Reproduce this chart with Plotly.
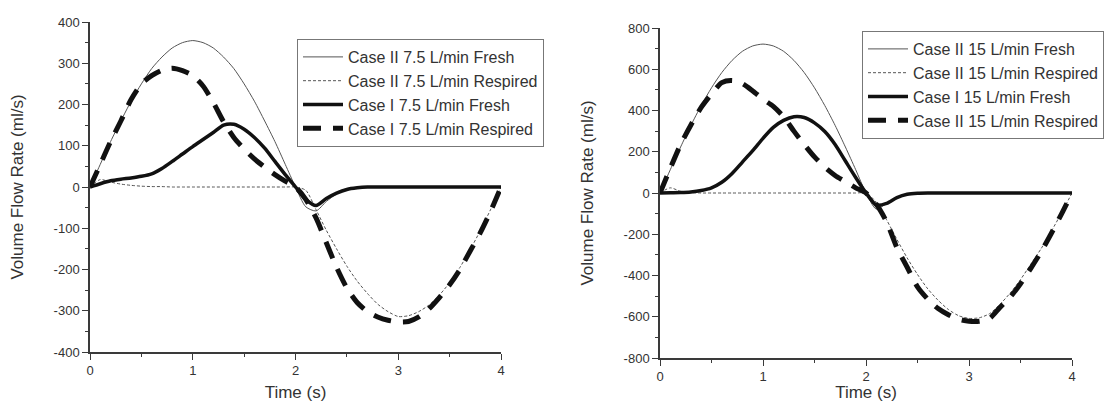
import plotly.graph_objects as go

# ---------------- data ----------------
time_s = [round(0.1 * i, 1) for i in range(41)]

# Left panel (7.5 L/min)
left_caseII_fresh = [0, 55, 110, 160, 208, 250, 287, 315, 337, 350, 355, 350, 337, 315, 287, 250, 208, 160, 110, 55,
                     0, -48, -58, -35, -17, -7, -2, 0, 0, 0, 0, 0, 0, 0, 0, 0, 0, 0, 0, 0, 0]
left_caseII_resp = [0, 18, 12, 7, 4, 2, 1, 1, 0, 0, 0, 0, 0, 0, 0, 0, 0, 0, 0, 0,
                    0, -8, -55, -105, -150, -192, -228, -258, -284, -302, -314, -312, -302, -286, -262, -232, -195, -152, -105, -54, 0]
left_caseI_fresh = [0, 8, 15, 19, 22, 26, 32, 45, 62, 80, 98, 115, 132, 150, 152, 140, 120, 94, 62, 30,
                    0, -30, -45, -28, -15, -6, -2, 0, 0, 0, 0, 0, 0, 0, 0, 0, 0, 0, 0, 0, 0]
left_caseI_resp = [0, 55, 110, 160, 212, 250, 270, 283, 288, 282, 270, 245, 205, 158, 120, 92, 68, 48, 30, 14,
                   0, -30, -75, -135, -195, -245, -280, -302, -315, -323, -327, -326, -315, -295, -268, -237, -200, -155, -110, -58, 0]

# Right panel (15 L/min)
right_caseII_fresh = [0, 113, 223, 328, 424, 510, 584, 643, 687, 713, 722, 713, 687, 643, 584, 510, 424, 328, 223, 113,
                      0, -78, -50, -20, -5, -1, 0, 0, 0, 0, 0, 0, 0, 0, 0, 0, 0, 0, 0, 0, 0]
right_caseII_resp = [0, 25, 8, 2, 0, 0, 0, 0, 0, 0, 0, 0, 0, 0, 0, 0, 0, 0, 0, 0,
                     0, -45, -130, -225, -315, -395, -465, -520, -565, -595, -608, -605, -585, -540, -485, -420, -345, -270, -185, -95, 0]
right_caseI_fresh = [0, 1, 2, 5, 12, 25, 52, 95, 150, 205, 265, 318, 352, 370, 366, 340, 298, 235, 155, 75,
                     0, -58, -50, -22, -6, -1, 0, 0, 0, 0, 0, 0, 0, 0, 0, 0, 0, 0, 0, 0, 0]
right_caseII_resp_b = [0, 120, 235, 330, 415, 480, 535, 545, 530, 495, 455, 420, 370, 300, 235, 175, 125, 85, 55, 25,
                       0, -55, -140, -265, -360, -455, -515, -560, -590, -612, -622, -622, -608, -555, -505, -440, -365, -285, -195, -100, 0]

x_ticks = [0, 1, 2, 3, 4]
x_ticktext = ["0", "1", "2", "3", "4"]
left_yticks = [-400, -300, -200, -100, 0, 100, 200, 300, 400]
left_yticktext = ["-400", "-300", "-200", "-100", "0", "100", "200", "300", "400"]
right_yticks = [-800, -600, -400, -200, 0, 200, 400, 600, 800]
right_yticktext = ["-800", "-600", "-400", "-200", "0", "200", "400", "600", "800"]

left_names = ["Case II 7.5 L/min Fresh", "Case II 7.5 L/min Respired",
              "Case I 7.5 L/min Fresh", "Case I 7.5 L/min Respired"]
right_names = ["Case II 15 L/min Fresh", "Case II 15 L/min Respired",
               "Case I 15 L/min Fresh", "Case II 15 L/min Respired"]

# ---------------- styles ----------------
FONT = "Liberation Sans, Arial, sans-serif"
TXT = "#333333"
AX = "#3a3a3a"
styles = [
    dict(color="#555555", width=1, dash="solid"),
    dict(color="#555555", width=1, dash="3px,2px"),
    dict(color="#111111", width=3.5, dash="solid"),
    dict(color="#111111", width=5, dash="18px,12px"),
]

fig = go.Figure()

left_series = [left_caseII_fresh, left_caseII_resp, left_caseI_fresh, left_caseI_resp]
right_series = [right_caseII_fresh, right_caseII_resp, right_caseI_fresh, right_caseII_resp_b]

for name, ys, st in zip(left_names, left_series, styles):
    fig.add_trace(go.Scatter(x=time_s, y=ys, name=name, mode="lines",
                             line=dict(shape="spline", smoothing=0.7, **st),
                             xaxis="x", yaxis="y", legend="legend"))
for name, ys, st in zip(right_names, right_series, styles):
    fig.add_trace(go.Scatter(x=time_s, y=ys, name=name, mode="lines",
                             line=dict(shape="spline", smoothing=0.7, **st),
                             xaxis="x2", yaxis="y2", legend="legend2"))

# page body has an 8px margin; figure is sized so that it fits the window exactly
OFF = 8
W, H = 1119 - 2 * OFF, 410 - 2 * OFF


def px_x(p):
    return (p - OFF) / W


def px_y(p):
    return (H - (p - OFF)) / H


def xax(domain, anchor):
    return dict(domain=domain, anchor=anchor, range=[0, 4], showgrid=False, zeroline=False, automargin=False,
                showline=True, linecolor=AX, linewidth=1.5, ticks="outside", ticklen=6,
                tickwidth=1.2, tickcolor=AX, tickmode="array", tickvals=x_ticks, ticktext=x_ticktext,
                minor=dict(tickmode="linear", tick0=0, dtick=0.5, ticks="outside", ticklen=3, tickcolor=AX),
                tickfont=dict(family=FONT, size=13, color=TXT),
                title=dict(text="Time (s)", font=dict(family=FONT, size=17, color=TXT), standoff=12))


def yax(domain, anchor, rng, tv, tt, minor, standoff):
    return dict(domain=domain, anchor=anchor, range=rng, showgrid=False, zeroline=False, automargin=False,
                showline=True, linecolor=AX, linewidth=1.5, ticks="outside", ticklen=6,
                tickwidth=1.2, tickcolor=AX, tickmode="array", tickvals=tv, ticktext=tt,
                minor=dict(tickmode="linear", tick0=0, dtick=minor, ticks="outside", ticklen=3, tickcolor=AX),
                tickfont=dict(family=FONT, size=13, color=TXT),
                title=dict(text="Volume Flow Rate (ml/s)", font=dict(family=FONT, size=17, color=TXT),
                           standoff=standoff))


legend_common = dict(xanchor="left", yanchor="top", bgcolor="white", bordercolor="#777777", borderwidth=1,
                     font=dict(family=FONT, size=16, color=TXT), tracegroupgap=0, itemwidth=40)

fig.update_layout(
    width=W, height=H, margin=dict(l=0, r=0, t=0, b=0, autoexpand=False),
    paper_bgcolor="white", plot_bgcolor="white",
    xaxis=xax([px_x(90), px_x(501)], "y"),
    yaxis=yax([px_y(352), px_y(22)], "x", [-400, 400], left_yticks, left_yticktext, 50, 30),
    xaxis2=xax([px_x(660), px_x(1072)], "y2"),
    yaxis2=yax([px_y(358), px_y(28)], "x2", [-800, 800], right_yticks, right_yticktext, 100, 26),
    legend=dict(x=px_x(297), y=px_y(39), **legend_common),
    legend2=dict(x=px_x(862), y=px_y(31), **legend_common),
)

fig.write_html("out.html")
